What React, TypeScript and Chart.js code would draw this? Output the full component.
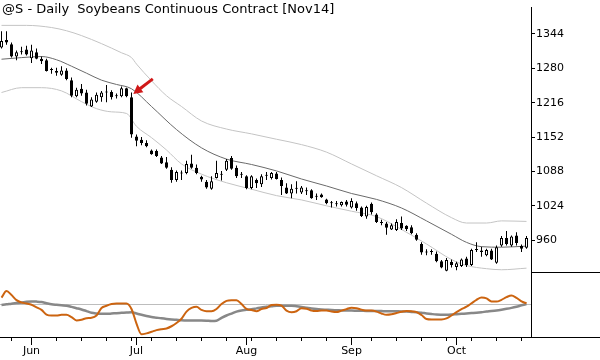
import React, { useEffect, useRef } from "react";
import { Chart, registerables } from "chart.js";

Chart.register(...registerables);

const TITLE = "@S - Daily  Soybeans Continuous Contract [Nov14]";

// Daily candles, May 22 .. Oct 21 2014 (trading-day index 0..105)
const OPEN = [
  1319, 1333, 1325, 1302, 1312, 1315, 1299, 1310, 1298, 1295,
  1279, 1275, 1268, 1276, 1258, 1228, 1242, 1235, 1209, 1218,
  1226, 1237, 1236, 1229, 1228, 1243, 1226, 1153, 1147, 1141,
  1127, 1126, 1114, 1105, 1091, 1072, 1085, 1085, 1103, 1095,
  1078, 1069, 1056, 1076, 1082, 1091, 1113, 1095, 1083, 1079,
  1057, 1072, 1064, 1080, 1076, 1084, 1072, 1058, 1047, 1056,
  1049, 1052, 1053, 1042, 1045, 1036, 1030, 1028, 1025, 1032,
  1021, 1029, 1021, 1004, 1028, 1008, 993, 991, 980, 979,
  992, 987, 984, 970, 953, 938, 939, 935, 921, 903,
  920, 910, 912, 926, 914, 943, 941, 932, 941, 918,
  950, 964, 950, 969, 949, 946,
];
const HIGH = [
  1349, 1349, 1328, 1313, 1320, 1322, 1324, 1317, 1302, 1298,
  1281, 1281, 1284, 1280, 1263, 1244, 1251, 1240, 1226, 1235,
  1238, 1249, 1239, 1233, 1246, 1244, 1235, 1157, 1152, 1146,
  1129, 1129, 1117, 1115, 1096, 1090, 1090, 1108, 1119, 1101,
  1080, 1072, 1079, 1108, 1089, 1111, 1117, 1099, 1087, 1081,
  1081, 1075, 1083, 1087, 1087, 1087, 1077, 1066, 1064, 1070,
  1061, 1058, 1055, 1047, 1047, 1037, 1033, 1033, 1032, 1035,
  1038, 1032, 1023, 1024, 1030, 1010, 998, 994, 991, 999,
  1004, 988, 988, 973, 956, 943, 943, 939, 923, 927,
  924, 920, 926, 929, 944, 956, 948, 944, 944, 950,
  968, 977, 969, 975, 952, 968,
];
const LOW = [
  1317, 1324, 1300, 1295, 1306, 1304, 1290, 1297, 1288, 1274,
  1270, 1266, 1266, 1258, 1226, 1226, 1229, 1211, 1208, 1216,
  1218, 1217, 1222, 1224, 1226, 1226, 1151, 1135, 1137, 1133,
  1119, 1115, 1102, 1093, 1067, 1069, 1072, 1083, 1093, 1083,
  1069, 1056, 1054, 1075, 1071, 1089, 1091, 1076, 1076, 1055,
  1055, 1057, 1059, 1072, 1073, 1073, 1044, 1046, 1038, 1047,
  1046, 1044, 1037, 1035, 1039, 1027, 1021, 1023, 1023, 1023,
  1019, 1015, 1003, 1000, 1008, 992, 988, 970, 979, 977,
  979, 977, 971, 959, 933, 932, 933, 919, 908, 902,
  909, 904, 910, 910, 912, 938, 929, 930, 923, 916,
  948, 950, 948, 950, 938, 944,
];
const CLOSE = [
  1331, 1328, 1302, 1310, 1310, 1306, 1313, 1298, 1293, 1275,
  1277, 1272, 1276, 1260, 1229, 1240, 1233, 1214, 1222, 1231,
  1235, 1235, 1226, 1228, 1243, 1228, 1157, 1145, 1141, 1135,
  1120, 1117, 1103, 1095, 1072, 1087, 1084, 1102, 1095, 1085,
  1073, 1058, 1070, 1085, 1083, 1108, 1093, 1079, 1082, 1057,
  1079, 1066, 1079, 1081, 1085, 1074, 1061, 1047, 1056, 1057,
  1058, 1051, 1038, 1041, 1040, 1029, 1029, 1027, 1031, 1026,
  1033, 1020, 1005, 1022, 1012, 994, 992, 983, 988, 994,
  982, 981, 973, 961, 937, 937, 938, 921, 909, 923,
  914, 917, 924, 914, 942, 942, 938, 942, 924, 947,
  964, 953, 967, 955, 944, 964,
];

// Channel lines, read at sampled trading-day indices
const UPPER_IDX = [0, 5, 10, 13, 16, 20, 24, 26, 27, 30, 33, 36, 40, 45, 50, 55, 60, 65, 70, 75, 80, 85, 90, 93, 97, 100, 105];
const UPPER = [1360, 1360, 1356, 1350, 1341, 1326, 1309, 1300, 1288, 1257, 1229, 1209, 1182, 1167, 1158, 1148, 1138, 1124, 1102, 1080, 1058, 1029, 1002, 992, 992, 996, 995];
const MID_IDX = [0, 4, 8, 11, 14, 17, 20, 23, 26, 30, 35, 40, 45, 50, 55, 60, 65, 70, 75, 80, 85, 90, 93, 96, 100, 105];
const MID = [1297, 1300, 1302, 1296, 1284, 1271, 1258, 1250, 1242, 1209, 1166, 1132, 1111, 1101, 1089, 1074, 1061, 1047, 1036, 1020, 996, 971, 956, 948, 947, 949];
const LOWER_IDX = [0, 4, 8, 12, 16, 19, 22, 25, 27, 30, 33, 36, 40, 45, 50, 55, 60, 65, 70, 75, 80, 85, 90, 93, 97, 100, 105];
const LOWER = [1235, 1244, 1244, 1238, 1218, 1205, 1199, 1196, 1172, 1151, 1128, 1102, 1083, 1067, 1055, 1043, 1035, 1024, 1014, 1004, 980, 953, 924, 913, 907, 905, 908];

// Lower-panel oscillator (one value per trading day)
const OSC_FAST = [
  7.3, 14, 10, 4.7, 2.3, 1.3, 0, -2.7, -5.3, -10,
  -11, -11, -10.3, -10.3, -12.7, -16, -15.3, -13.7, -13.3, -11,
  -3.3, -1, 0.7, 1.3, 1.3, 1.3, -4.3, -19.3, -30.3, -29.3,
  -27.7, -26, -25, -24.3, -22, -18.7, -14.3, -7, -3.3, -2,
  -5.3, -6.7, -6.7, -4.3, 0.7, 4, 4.7, 4.7, 0.7, -4.3,
  -5.3, -6.7, -4.3, -3.3, -0.3, 0, -1, -6, -7.7, -6.7,
  -3.5, -4, -6, -6.5, -6, -6, -7, -7.5, -6, -4.5,
  -3, -3.5, -5, -6, -6, -7, -9, -10.3, -9.8, -8.5,
  -7.2, -6.3, -6.7, -7.5, -10.5, -14.5, -15, -15, -15, -14,
  -11, -7.5, -4.5, -2, 1.5, 5, 7.3, 6.5, 3.3, 3.2,
  5, 7.8, 9.5, 7, 3.5, 1.5,
];
const OSC_SLOW = [
  -0.2, 0.4, 1.1, 1.7, 2.3, 3, 3.3, 3.2, 2.8, 1.6,
  0.5, -0.1, -0.6, -1, -2.2, -3.5, -4.8, -6.5, -8.2, -8.9,
  -9.2, -9.3, -9, -8.6, -8.3, -8, -7.7, -9, -10.3, -11.5,
  -12.5, -13.2, -13.9, -14.5, -15, -15.4, -15.8, -16, -16, -16,
  -16.1, -16.3, -16.6, -16.3, -13.5, -11, -9, -7, -5.8, -5.2,
  -4.6, -3.7, -2.8, -2, -1.6, -1.1, -1, -1, -1, -1.5,
  -2.2, -3, -3.8, -4.4, -4.8, -5.1, -5.4, -5.6, -5.8, -6,
  -6, -6.1, -6.2, -6.3, -6.3, -6.4, -6.5, -6.6, -6.6, -6.7,
  -6.8, -7, -7.3, -7.6, -8.2, -8.9, -9.5, -10, -10.2, -10.3,
  -10.1, -9.7, -9.3, -8.9, -8.5, -8.1, -7.6, -7, -6.5, -5.9,
  -5.1, -4.2, -3.2, -2, -0.6, 0.7,
];

const PRICE_TICKS = [960, 1024, 1088, 1152, 1216, 1280, 1344];
const MONTH_TICK_IDX = [6, 27, 49, 70, 91];
const MONTH_LABELS = ["Jun", "Jul", "Aug", "Sep", "Oct"];
const WEEK_TICK_IDX = [2, 11, 16, 21, 26, 30, 35, 40, 45, 50, 55, 60, 65, 74, 79, 84, 89, 94, 99, 104];
const ARROW_IDX = 26;

// axis ranges
const X_MIN = -0.3;
const X_MAX = 105.9;
const PRICE_MIN = 779.8;
const PRICE_MAX = 1393.1;
const PRICE_FLOOR = 900;
const OSC_MIN = -33;
const OSC_MAX = 304;

const FONT = "'DejaVu Sans', sans-serif";

const extrasPlugin = {
  id: "extras",
  afterDraw(chart: any) {
    const { ctx, chartArea, width } = chart;
    const xs = chart.scales.x;
    const ys = chart.scales.y;
    ctx.save();
    ctx.strokeStyle = "#000";
    ctx.lineWidth = 1;
    ctx.beginPath();
    const by = Math.round(chartArea.bottom - 0.5) + 0.5;
    ctx.moveTo(chartArea.right, by);
    ctx.lineTo(width, by);
    const sy = Math.round(ys.getPixelForValue(PRICE_FLOOR) - 0.5) + 0.5;
    ctx.moveTo(chartArea.right, sy);
    ctx.lineTo(width, sy);
    for (const v of MONTH_TICK_IDX) {
      const px = Math.round(xs.getPixelForValue(v) - 0.5) + 0.5;
      ctx.moveTo(px, chartArea.bottom + 3);
      ctx.lineTo(px, chartArea.bottom + 8);
    }
    ctx.stroke();

    // red arrow pointing at the Jun 30 candle
    const tipX = xs.getPixelForValue(ARROW_IDX) + 1.8;
    const tipY = ys.getPixelForValue(HIGH[ARROW_IDX]) + 1.4;
    const tailX = tipX + 19.5;
    const tailY = tipY - 15;
    const dx = tipX - tailX;
    const dy = tipY - tailY;
    const len = Math.hypot(dx, dy);
    const ux = dx / len;
    const uy = dy / len;
    const headLen = 9;
    const headHalf = 4.8;
    const bx = tipX - ux * headLen;
    const byy = tipY - uy * headLen;
    ctx.strokeStyle = "#d01818";
    ctx.fillStyle = "#d01818";
    ctx.lineWidth = 3;
    ctx.beginPath();
    ctx.moveTo(tailX, tailY);
    ctx.lineTo(bx + ux, byy + uy);
    ctx.stroke();
    ctx.beginPath();
    ctx.moveTo(tipX, tipY);
    ctx.lineTo(bx - uy * headHalf, byy + ux * headHalf);
    ctx.lineTo(bx + uy * headHalf, byy - ux * headHalf);
    ctx.closePath();
    ctx.fill();
    ctx.restore();
  },
};

export default function App() {
  const ref = useRef<HTMLCanvasElement>(null);

  useEffect(() => {
    const canvas = ref.current;
    if (!canvas) return;
    Chart.defaults.font.family = FONT;
    Chart.defaults.color = "#000";

    const idx = OPEN.map((_, i) => i);
    const wicks = idx.map((i) => ({ x: i, y: [LOW[i], HIGH[i]] }));
    const bodies = idx.map((i) => ({ x: i, y: [OPEN[i], CLOSE[i]] }));
    const bodyColors = idx.map((i) => (CLOSE[i] >= OPEN[i] ? "#ffffff" : "#000000"));
    const pts = (ix: number[], vals: number[]) => ix.map((x, k) => ({ x, y: vals[k] }));

    const lineBase = {
      type: "line" as const,
      pointRadius: 0,
      fill: false,
      cubicInterpolationMode: "monotone" as const,
    };

    const chart = new Chart(canvas, {
      type: "line",
      data: {
        datasets: [
          { ...lineBase, data: pts(UPPER_IDX, UPPER), borderColor: "#c4c4c4", borderWidth: 1, yAxisID: "y", order: 10 },
          { ...lineBase, data: pts(MID_IDX, MID), borderColor: "#6a6a6a", borderWidth: 1, yAxisID: "y", order: 10 },
          { ...lineBase, data: pts(LOWER_IDX, LOWER), borderColor: "#c4c4c4", borderWidth: 1, yAxisID: "y", order: 10 },
          {
            type: "bar",
            data: wicks as any,
            backgroundColor: "#000",
            borderWidth: 0,
            barThickness: 1,
            grouped: false,
            inflateAmount: 0,
            yAxisID: "y",
            order: 3,
          } as any,
          {
            type: "bar",
            data: bodies as any,
            backgroundColor: bodyColors,
            borderColor: "#000",
            borderWidth: 1,
            borderSkipped: false,
            barThickness: 3,
            minBarLength: 1,
            grouped: false,
            inflateAmount: 0,
            yAxisID: "y",
            order: 2,
          } as any,
          { ...lineBase, data: pts(idx, OSC_SLOW), borderColor: "#888888", borderWidth: 2.5, yAxisID: "osc", order: 6 },
          { ...lineBase, data: pts(idx, OSC_FAST), borderColor: "#cc6410", borderWidth: 2, yAxisID: "osc", order: 5 },
        ] as any,
      },
      options: {
        responsive: false,
        animation: false,
        devicePixelRatio: 1,
        events: [],
        layout: { padding: 0 },
        plugins: { legend: { display: false }, tooltip: { enabled: false }, title: { display: false } },
        scales: {
          x: {
            type: "linear",
            min: X_MIN,
            max: X_MAX,
            offset: false,
            afterBuildTicks: (s: any) => {
              s.ticks = [...WEEK_TICK_IDX, ...MONTH_TICK_IDX].sort((a, b) => a - b).map((v) => ({ value: v }));
            },
            afterFit: (s: any) => {
              s.height = 23;
            },
            ticks: {
              autoSkip: false,
              maxRotation: 0,
              padding: 4,
              color: "#000",
              font: { size: 11, family: FONT },
              callback: (v: any) => {
                const k = MONTH_TICK_IDX.indexOf(Number(v));
                return k >= 0 ? MONTH_LABELS[k] : "";
              },
            },
            grid: { drawOnChartArea: false, drawTicks: true, tickLength: 4, color: "#000", offset: false },
            border: { display: true, color: "#000", width: 1 },
          },
          y: {
            type: "linear",
            position: "right",
            min: PRICE_MIN,
            max: PRICE_MAX,
            afterBuildTicks: (s: any) => {
              s.ticks = PRICE_TICKS.map((v) => ({ value: v }));
            },
            afterFit: (s: any) => {
              s.width = 69;
            },
            ticks: {
              color: "#000",
              padding: 1,
              font: { size: 11, family: FONT },
              callback: (v: any) => String(v),
            },
            grid: { drawOnChartArea: false, drawTicks: true, tickLength: 4, color: "#000" },
            border: { display: true, color: "#000", width: 1 },
          },
          osc: {
            type: "linear",
            position: "right",
            min: OSC_MIN,
            max: OSC_MAX,
            afterBuildTicks: (s: any) => {
              s.ticks = [{ value: 0 }];
            },
            afterFit: (s: any) => {
              s.width = 0;
            },
            ticks: { display: false },
            grid: { drawOnChartArea: true, drawTicks: false, tickLength: 0, color: "#bdbdbd", lineWidth: 1 },
            border: { display: false },
          },
        } as any,
      },
      plugins: [extrasPlugin],
    });

    return () => chart.destroy();
  }, []);

  return (
    <div style={{ position: "fixed", left: 0, top: 0, width: 600, height: 360, background: "#fff" }}>
      <canvas ref={ref} width={600} height={360} style={{ display: "block", width: 600, height: 360 }} />
      <div
        style={{
          position: "absolute",
          left: 2,
          top: 1,
          fontFamily: FONT,
          fontSize: 13,
          lineHeight: "15px",
          whiteSpace: "pre",
          color: "#000",
        }}
      >
        {TITLE}
      </div>
    </div>
  );
}
